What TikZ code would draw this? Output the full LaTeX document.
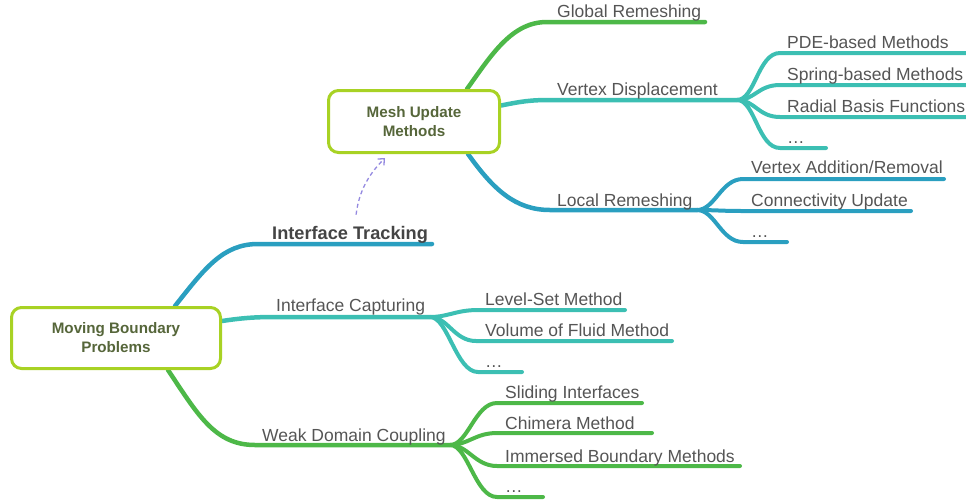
\documentclass[tikz,border=0pt]{standalone}
\usepackage{fontspec}
\setmainfont{Liberation Sans}
\usetikzlibrary{arrows.meta,backgrounds}
\definecolor{boxline}{HTML}{A8D224}
\definecolor{boxtext}{HTML}{56663A}
\definecolor{cblue}{HTML}{2A9FC0}
\definecolor{cteal}{HTML}{3CBFB3}
\definecolor{cgreen}{HTML}{4DB848}
\definecolor{ctxt}{HTML}{555555}
\definecolor{ctxtdark}{HTML}{444444}
\definecolor{clav}{HTML}{9489E0}
\begin{document}
\begin{tikzpicture}[x=1pt,y=-1pt,
  topic/.style={draw=boxline,line width=3pt,rounded corners=10pt,fill=white,align=center,
    text=boxtext,font=\bfseries\fontsize{15.2}{19}\selectfont},
  lbl/.style={anchor=base west,inner sep=0pt,text=ctxt,font=\fontsize{17.5}{20}\selectfont},
  br/.style={line width=4.5pt,line cap=round},
  twig/.style={line width=4pt,line cap=round}]
\useasboundingbox (0,0) rectangle (966,499);

\node[topic,minimum width=209pt,minimum height=61pt] (mbp) at (116,338) {Moving Boundary\\Problems};
\node[topic,minimum width=171pt,minimum height=62pt] (mum) at (414,121.5) {Mesh Update\\Methods};

\node[lbl,text=ctxtdark,font=\bfseries\fontsize{18.2}{20}\selectfont] (it) at (272,239) {Interface Tracking};
\node[lbl] (ic) at (276,311) {Interface Capturing};
\node[lbl] (wdc) at (262,441) {Weak Domain Coupling};
\node[lbl] (gr) at (557,17) {Global Remeshing};
\node[lbl] (vd) at (557,95) {Vertex Displacement};
\node[lbl] (lr) at (557,206) {Local Remeshing};
\node[lbl] (pde) at (787,48) {PDE-based Methods};
\node[lbl] (spr) at (787,80) {Spring-based Methods};
\node[lbl] (rbf) at (787,112) {Radial Basis Functions};
\node[lbl] (vdm) at (787,143) {…};
\node[lbl] (var) at (751,173) {Vertex Addition/Removal};
\node[lbl] (cu) at (751,206) {Connectivity Update};
\node[lbl] (lrm) at (751,237) {…};
\node[lbl] (ls) at (485,305) {Level-Set Method};
\node[lbl] (vof) at (485,336) {Volume of Fluid Method};
\node[lbl] (icm) at (485,367) {…};
\node[lbl] (si) at (505,398) {Sliding Interfaces};
\node[lbl] (cm) at (505,429) {Chimera Method};
\node[lbl] (ibm) at (505,462) {Immersed Boundary Methods};
\node[lbl] (wdm) at (505,492) {…};

\coordinate (it0) at (258,244); \coordinate (it1) at (432,244);
\coordinate (ic0) at (275,317); \coordinate (ic1) at (430,317);
\coordinate (wdc0) at (255,445); \coordinate (wdc1) at (450,445);
\coordinate (gr0) at (547,22); \coordinate (gr1) at (705,22);
\coordinate (vd0) at (550,100); \coordinate (vd1) at (737,100);
\coordinate (lr0) at (550,210); \coordinate (lr1) at (697,210);
\coordinate (pde0) at (780,53); \coordinate (pde1) at (966,53);
\coordinate (spr0) at (780,85); \coordinate (spr1) at (966,85);
\coordinate (rbf0) at (780,117); \coordinate (rbf1) at (966,117);
\coordinate (vdm0) at (780,148); \coordinate (vdm1) at (826,148);
\coordinate (var0) at (743,179); \coordinate (var1) at (944,179);
\coordinate (cu0) at (743,211); \coordinate (cu1) at (911,211);
\coordinate (lrm0) at (743,242); \coordinate (lrm1) at (787,242);
\coordinate (ls0) at (478,310); \coordinate (ls1) at (625,310);
\coordinate (vof0) at (476,341); \coordinate (vof1) at (672,341);
\coordinate (icm0) at (478,372); \coordinate (icm1) at (522,372);
\coordinate (si0) at (497,403); \coordinate (si1) at (642,403);
\coordinate (cm0) at (497,433); \coordinate (cm1) at (652,433);
\coordinate (ibm0) at (497,466); \coordinate (ibm1) at (740,466);
\coordinate (wdm0) at (497,497); \coordinate (wdm1) at (543,497);

\begin{scope}[on background layer]
\draw[br,cblue] ([xshift=59]mbp.north) .. controls +(30,-38) and +(-35,0) .. (it0) -- (it1);
\draw[br,cteal] ([yshift=17]mbp.east) .. controls +(20,-3) and +(-20,0) .. (ic0) -- (ic1);
\draw[br,cgreen] ([xshift=52]mbp.south) .. controls +(30,45) and +(-40,0) .. (wdc0) -- (wdc1);
\draw[br,cgreen] ([xshift=53]mum.north) .. controls +(25,-35) and +(-35,0) .. (gr0) -- (gr1);
\draw[br,cteal] ([yshift=16]mum.east) .. controls +(20,-4) and +(-20,0) .. (vd0) -- (vd1);
\draw[br,cblue] ([xshift=54]mum.south) .. controls +(25,35) and +(-35,0) .. (lr0) -- (lr1);

\draw[twig,cteal] (vd1) .. controls +(18,0) and +(-22,0) .. (pde0) -- (pde1);
\draw[twig,cteal] (vd1) .. controls +(18,0) and +(-22,0) .. (spr0) -- (spr1);
\draw[twig,cteal] (vd1) .. controls +(18,0) and +(-22,0) .. (rbf0) -- (rbf1);
\draw[twig,cteal] (vd1) .. controls +(18,0) and +(-22,0) .. (vdm0) -- (vdm1);
\draw[twig,cblue] (lr1) .. controls +(18,0) and +(-22,0) .. (var0) -- (var1);
\draw[twig,cblue] (lr1) .. controls +(18,0) and +(-22,0) .. (cu0) -- (cu1);
\draw[twig,cblue] (lr1) .. controls +(18,0) and +(-22,0) .. (lrm0) -- (lrm1);
\draw[twig,cteal] (ic1) .. controls +(18,0) and +(-22,0) .. (ls0) -- (ls1);
\draw[twig,cteal] (ic1) .. controls +(18,0) and +(-22,0) .. (vof0) -- (vof1);
\draw[twig,cteal] (ic1) .. controls +(18,0) and +(-22,0) .. (icm0) -- (icm1);
\draw[twig,cgreen] (wdc1) .. controls +(18,0) and +(-22,0) .. (si0) -- (si1);
\draw[twig,cgreen] (wdc1) .. controls +(18,0) and +(-22,0) .. (cm0) -- (cm1);
\draw[twig,cgreen] (wdc1) .. controls +(18,0) and +(-22,0) .. (ibm0) -- (ibm1);
\draw[twig,cgreen] (wdc1) .. controls +(18,0) and +(-22,0) .. (wdm0) -- (wdm1);
\end{scope}

\draw[clav,line width=1.3pt,dash pattern=on 4pt off 3pt,-{Straight Barb[length=5pt,width=9pt]}]
  ([xshift=6,yshift=11]it.north) .. controls +(3,-25) and +(-15,15) .. ([xshift=-29,yshift=-4]mum.south);
\end{tikzpicture}
\end{document}
